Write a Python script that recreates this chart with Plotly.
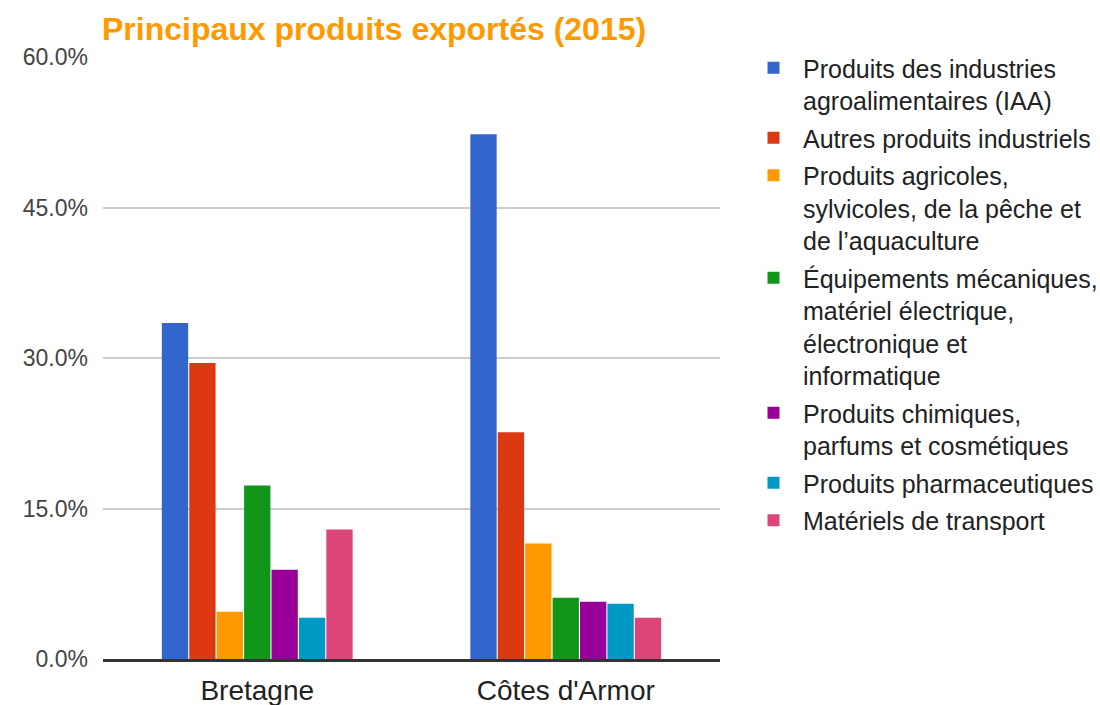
"""
Principaux produits exportés (2015) - grouped bar chart
"""

import plotly.graph_objects as go

# Categories on the x axis
regions = ['Bretagne', "Côtes d'Armor"]

# Product families (legend labels, wrapped like the original)
products = [
    'Produits des industries<br>agroalimentaires (IAA)',
    'Autres produits industriels',
    'Produits agricoles,<br>sylvicoles, de la pêche et<br>de l’aquaculture',
    'Équipements mécaniques,<br>matériel électrique,<br>électronique et<br>informatique',
    'Produits chimiques,<br>parfums et cosmétiques',
    'Produits pharmaceutiques',
    'Matériels de transport',
]

# Share of exports (%) per product, one value per region
iaa = [33.5, 52.3]
autres_industriels = [29.5, 22.6]
agricoles = [4.7, 11.5]
equipements = [17.3, 6.1]
chimiques = [8.9, 5.7]
pharma = [4.1, 5.5]
transport = [12.9, 4.1]

series = [iaa, autres_industriels, agricoles, equipements, chimiques, pharma, transport]

colors = ['#3366CC', '#DC3912', '#FF9900', '#109618', '#990099', '#0099C6', '#DD4477']

# Y axis ticks
y_ticks = [0, 15, 30, 45, 60]
y_tick_labels = [f'{v:.1f}%' for v in y_ticks]

FONT = 'Liberation Sans, Arial, sans-serif'

fig = go.Figure()

for i, (name, values, color) in enumerate(zip(products, series, colors)):
    fig.add_trace(go.Bar(
        x=regions,
        y=values,
        name=name,
        legendgroup=f'g{i}',  # one group per trace so tracegroupgap spaces the items
        marker=dict(color=color, line=dict(width=0)),
        hovertemplate='%{x}<br>%{y:.1f}%<extra></extra>',
    ))

fig.update_layout(
    width=1100,
    height=705,
    margin=dict(l=103, r=380, t=57, b=46, autoexpand=False),
    paper_bgcolor='white',
    plot_bgcolor='white',
    barmode='group',
    bargap=0.378,
    bargroupgap=0.04,
    font=dict(family=FONT, color='#222222'),
    title=dict(
        text='<b>Principaux produits exportés (2015)</b>',
        font=dict(family=FONT, size=32, color='#FF9900'),
        x=102 / 1100,
        xanchor='left',
        xref='container',
        y=1 - 29 / 705,
        yanchor='middle',
        yref='container',
    ),
    legend=dict(
        xref='container',
        yref='container',
        x=744 / 1100,
        xanchor='left',
        y=1 - 45 / 705,
        yanchor='top',
        maxheight=1,
        valign='top',
        itemwidth=49,
        font=dict(family=FONT, size=25, color='#222222'),
        bgcolor='rgba(0,0,0,0)',
        traceorder='grouped',
        tracegroupgap=2,
        itemclick=False,
        itemdoubleclick=False,
    ),
)

fig.update_xaxes(
    showgrid=False,
    showline=True,
    linecolor='#333333',
    linewidth=3,
    ticks='',
    ticklabelstandoff=4,
    tickfont=dict(family=FONT, size=28, color='#222222'),
    fixedrange=True,
)

fig.update_yaxes(
    range=[0, 60],
    tickmode='array',
    tickvals=y_ticks,
    ticktext=y_tick_labels,
    showgrid=True,
    gridcolor='#CCCCCC',
    gridwidth=2,
    zeroline=False,
    showline=False,
    ticks='',
    ticklabelstandoff=14,
    tickfont=dict(family=FONT, size=23, color='#444444'),
    fixedrange=True,
)

# the default page keeps an 8px body margin; drop it so the figure fills the window
fig.write_html(
    "out.html",
    config={'displayModeBar': False},
    post_script="document.body.style.margin = '0';",
)
